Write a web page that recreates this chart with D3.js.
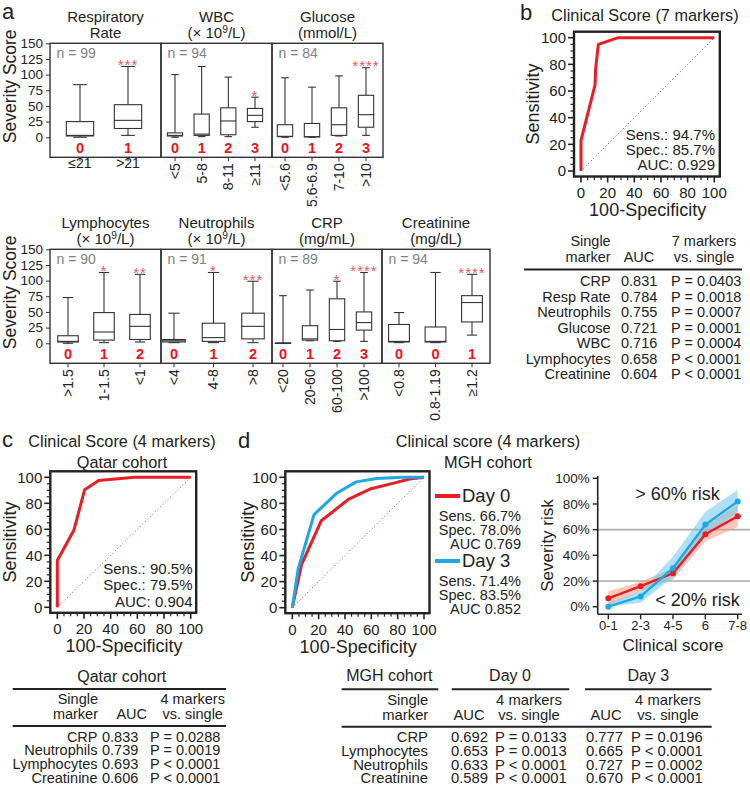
<!DOCTYPE html>
<html><head><meta charset="utf-8">
<script src="https://cdn.jsdelivr.net/npm/d3@7"></script>
<style>
body{margin:0;background:#fff}
text{font-family:"Liberation Sans",Arial,Helvetica,sans-serif;fill:#222}
</style>
</head><body>
<svg id="chart" width="750" height="790"></svg>
<script>
// ---------------- DATA ----------------
const panelTitles = [["Respiratory","Rate"],["WBC","(× 10⁹/L)"],["Glucose","(mmol/L)"],["Lymphocytes","(× 10⁹/L)"],["Neutrophils","(× 10⁹/L)"],["CRP","(mg/mL)"],["Creatinine","(mg/dL)"]];
const panelN = [99,94,84,90,91,89,94];
const panelCats = [["≤21",">21"],["<5","5-8","8-11","≥11"],["<5.6","5.6-6.9","7-10",">10"],[">1.5","1-1.5","<1"],["<4","4-8",">8"],["<20","20-60","60-100",">100"],["<0.8","0.8-1.19","≥1.2"]];
const panelPoints = [[0,1],[0,1,2,3],[0,1,2,3],[0,1,2],[0,1,2],[0,1,2,3],[0,0,1]];
const panelSig = [["","***"],["","","","*"],["","","","****"],["","*","**"],["","*","***"],["","","*","****"],["","","****"]];
// [min, q1, median, q3, max]
const respBoxes = [[0,2,3,25,84],[3,14,27,52,113]];
const wbcBoxes = [[0,2,3,7,100],[1,3,5,37,113],[1,4,26,47,96],[16,25,35,46,64]];
const glucoseBoxes = [[0,1,1.5,20,95],[0,0.5,1,22,80],[2,3,20,47,98],[3,16,36,67,111]];
const lymphBoxes = [[0,2,3,12,73],[1,5,18,49,113],[2,6,27,46,110]];
const neutroBoxes = [[1,2,4,6,48],[1,3,9,32,113],[1,7,27,48,99]];
const crpBoxes = [[0,0,0,0.5,76],[4,5,7,28,85],[3,4,22,71,99],[3,21,33,50,113]];
const creatBoxes = [[1,2,3,30,49],[1,2,3,26,113],[13,34,65,76,110]];
const panelBoxes = [respBoxes,wbcBoxes,glucoseBoxes,lymphBoxes,neutroBoxes,crpBoxes,creatBoxes];
const scoreTicks = [0,25,50,75,100,125,150];

// ROC curves [100-specificity, sensitivity]
const roc7 = [[0,0],[0,23],[10.5,64.5],[11,77],[13,95],[28,100],[100,100]];
const rocQatar = [[0,0],[0,36],[12.5,59.5],[20.5,90.5],[31,97.5],[58,100],[100,100]];
const rocDay0 = [[0,0],[7,33],[22,66.7],[42.5,83],[59,91],[77,95.5],[89,98.7],[100,100]];
const rocDay3 = [[0,0],[4.5,30],[16.5,71.4],[34,88],[48.5,96.5],[64,99],[84,100],[100,100]];
const rocTicks = [0,20,40,60,80,100];

// Severity risk by clinical score
const riskCats = ["0-1","2-3","4-5","6","7-8"];
const riskDay0 = [6.5,16,26,56.5,70.5];
const riskDay0Lo = [1,12,21,51,62];
const riskDay0Hi = [12,19.5,30,63.5,79];
const riskDay3 = [0,8,30,64,82];
const riskDay3Lo = [0,3,23,54.5,74];
const riskDay3Hi = [3,12,39,74,91];
const riskTicks = [0,20,40,60,80,100];

// Tables
const tableBNames = ["CRP","Resp Rate","Neutrophils","Glucose","WBC","Lymphocytes","Creatinine"];
const tableBAuc = ["0.831","0.784","0.755","0.721","0.716","0.658","0.604"];
const tableBP = ["P = 0.0403","P = 0.0018","P = 0.0007","P = 0.0001","P = 0.0004","P < 0.0001","P < 0.0001"];
const tableCNames = ["CRP","Neutrophils","Lymphocytes","Creatinine"];
const tableCAuc = ["0.833","0.739","0.693","0.606"];
const tableCP = ["P = 0.0288","P = 0.0019","P < 0.0001","P < 0.0001"];
const tableDNames = ["CRP","Lymphocytes","Neutrophils","Creatinine"];
const tableDAuc0 = ["0.692","0.653","0.633","0.589"];
const tableDP0 = ["P = 0.0133","P = 0.0013","P < 0.0001","P < 0.0001"];
const tableDAuc3 = ["0.777","0.665","0.727","0.670"];
const tableDP3 = ["P = 0.0196","P < 0.0001","P = 0.0002","P < 0.0001"];

// ---------------- STYLE ----------------
const RED = "#ec1c24", BLUE = "#1ca8e3", RED_NUM = "#f0101c", AST = "#f2545b";
const INK = "#333";
const svg = d3.select("#chart");
svg.append("rect").attr("width",750).attr("height",790).attr("fill","#fff");

function txt(g,x,y,s,o={}){
  const t=g.append("text").attr("x",x).attr("y",y).text(s)
    .attr("font-size",o.size||14).attr("text-anchor",o.anchor||"start");
  if(o.fill) t.style("fill",o.fill);
  if(o.weight) t.attr("font-weight",o.weight);
  if(o.rotate!==undefined) t.attr("transform",`rotate(${o.rotate},${x},${y})`);
  if(o.dy) t.attr("dy",o.dy);
  if(o.ls) t.attr("letter-spacing",o.ls);
  return t;
}
function supText(g,x,y,s,size){
  const t=g.append("text").attr("x",x).attr("y",y).attr("font-size",size).attr("text-anchor","middle");
  const parts=s.split("⁹");
  if(parts.length===1){t.text(s);return t;}
  t.append("tspan").text(parts[0]);
  t.append("tspan").text("9").attr("font-size",size*0.68).attr("dy",-size*0.38);
  t.append("tspan").text(parts[1]).attr("dy",size*0.38);
  return t;
}

// ---------------- PANEL a ----------------
const rows = [{top:43.3,bottom:157.3},{top:249.3,bottom:363.3}];
const boxLayout = [
  {x0:50,x1:161,row:0,pl:30,pr:33},
  {x0:161,x1:272,row:0,pl:14,pr:17},
  {x0:272,x1:383,row:0,pl:13,pr:17},
  {x0:50,x1:161,row:1,pl:18,pr:21},
  {x0:161,x1:272,row:1,pl:13,pr:19},
  {x0:272,x1:382,row:1,pl:11,pr:18},
  {x0:382,x1:490,row:1,pl:17,pr:18}
];
const ga = svg.append("g");
txt(ga,2,19,"a",{size:22});

rows.forEach((r,ri)=>{
  const y = d3.scaleLinear().domain([-32,150]).range([r.bottom,r.top]);
  const ax = ga.append("g").attr("transform","translate(50,0)")
    .call(d3.axisLeft(y).tickValues(scoreTicks).tickSize(4).tickPadding(3));
  ax.select(".domain").remove();
  ax.selectAll("line").attr("stroke",INK);
  ax.selectAll("text").attr("font-size",13.5).style("fill","#222");
  txt(ga,10,(r.top+r.bottom)/2-14,"Severity Score",{size:17.5,anchor:"middle",rotate:-90,dy:"0.35em"});
});

boxLayout.forEach((L,pi)=>{
  const r = rows[L.row];
  const y = d3.scaleLinear().domain([-32,150]).range([r.bottom,r.top]);
  const x = d3.scalePoint().domain(panelCats[pi]).range([L.x0+L.pl, L.x1-L.pr]);
  const step = (x.range()[1]-x.range()[0])/(panelCats[pi].length-1);
  const bw = step*0.57, cw = bw*0.5;
  const g = ga.append("g");
  g.append("rect").attr("x",L.x0).attr("y",r.top).attr("width",L.x1-L.x0).attr("height",r.bottom-r.top)
    .attr("fill","none").attr("stroke",INK).attr("stroke-width",1.4);
  const cx=(L.x0+L.x1)/2;
  supText(g,cx,r.top-21.5,panelTitles[pi][0],15);
  supText(g,cx,r.top-5,panelTitles[pi][1],15);
  txt(g,L.x0+6.5,r.top+15,"n = "+panelN[pi],{size:14,fill:"#808080"});
  panelCats[pi].forEach((c,ci)=>{
    const [mn,q1,md,q3,mx]=panelBoxes[pi][ci];
    const xc=x(c);
    const b=g.append("g").attr("stroke",INK).attr("stroke-width",1.1).attr("fill","none");
    b.append("line").attr("x1",xc).attr("x2",xc).attr("y1",y(mx)).attr("y2",y(q3));
    b.append("line").attr("x1",xc).attr("x2",xc).attr("y1",y(q1)).attr("y2",y(mn));
    b.append("line").attr("x1",xc-cw/2).attr("x2",xc+cw/2).attr("y1",y(mx)).attr("y2",y(mx));
    b.append("line").attr("x1",xc-cw/2).attr("x2",xc+cw/2).attr("y1",y(mn)).attr("y2",y(mn));
    b.append("rect").attr("x",xc-bw/2).attr("width",bw).attr("y",y(q3)).attr("height",Math.max(0.5,y(q1)-y(q3))).attr("fill","#fff");
    b.append("line").attr("x1",xc-bw/2).attr("x2",xc+bw/2).attr("y1",y(md)).attr("y2",y(md));
    if(panelSig[pi][ci]) txt(g,xc,y(mx)+3.5,panelSig[pi][ci],{size:15,anchor:"middle",fill:AST,ls:1});
    txt(g,xc,r.bottom-4.5,String(panelPoints[pi][ci]),{size:14.5,anchor:"middle",fill:RED_NUM,weight:"bold"});
    g.append("line").attr("x1",xc).attr("x2",xc).attr("y1",r.bottom).attr("y2",r.bottom+4).attr("stroke",INK);
    if(pi===0){
      txt(g,xc,r.bottom+11,c,{size:14,anchor:"middle"});
    } else {
      txt(g,xc,r.bottom+6,c,{size:14,anchor:"end",rotate:-90,dy:"0.35em"});
    }
  });
});

// ---------------- ROC helper ----------------
function drawRoc(g,cfg){
  const x=d3.scaleLinear().domain([0,100]).range(cfg.xr);
  const y=d3.scaleLinear().domain([0,100]).range(cfg.yr);
  const fx0=cfg.xr[0]-7, fx1=cfg.xr[1]+5.5, fy0=cfg.yr[1]-6, fy1=cfg.yr[0]+5.5;
  d3.range(0,101,5).forEach(v=>{
    const major=v%20===0, len=major?6:3.5;
    g.append("line").attr("x1",fx0).attr("x2",fx0-len).attr("y1",y(v)).attr("y2",y(v)).attr("stroke","#222").attr("stroke-width",major?1.6:1.2);
    g.append("line").attr("y1",fy1).attr("y2",fy1+len).attr("x1",x(v)).attr("x2",x(v)).attr("stroke","#222").attr("stroke-width",major?1.6:1.2);
  });
  rocTicks.forEach(v=>{
    txt(g,fx0-8,y(v),String(v),{size:15,anchor:"end",dy:"0.35em"});
    txt(g,x(v),fy1+21.5,String(v),{size:15,anchor:"middle"});
  });
  g.append("line").attr("x1",x(0)).attr("y1",y(0)).attr("x2",x(100)).attr("y2",y(100))
    .attr("stroke","#b0404a").attr("stroke-width",1).attr("stroke-dasharray","1,2.5");
  const line=d3.line().x(d=>x(d[0])).y(d=>y(d[1]));
  cfg.curves.forEach(c=>{
    g.append("path").datum(c.data).attr("d",line).attr("fill","none").attr("stroke",c.color)
      .attr("stroke-width",3).attr("stroke-linejoin","round");
  });
  g.append("rect").attr("x",fx0).attr("y",fy0).attr("width",fx1-fx0).attr("height",fy1-fy0)
    .attr("fill","none").attr("stroke","#222").attr("stroke-width",2.4);
  txt(g,fx0-cfg.ylabOff,(fy0+fy1)/2,"Sensitivity",{size:18,anchor:"middle",rotate:-90,dy:"0.35em"});
  txt(g,(x(0)+x(100))/2,fy1+39.5,"100-Specificity",{size:18,anchor:"middle"});
  return {x,y,fx0,fx1,fy0,fy1};
}

// ---------------- PANEL b ----------------
const gb=svg.append("g");
txt(gb,520,20,"b",{size:22});
txt(gb,645,21,"Clinical Score (7 markers)",{size:16.3,anchor:"middle"});
drawRoc(gb,{xr:[581,714.3],yr:[171,37.7],ylabOff:41,curves:[{data:roc7,color:RED}]});
txt(gb,715,140,"Sens.: 94.7%",{size:15,anchor:"end"});
txt(gb,715,155,"Spec.: 85.7%",{size:15,anchor:"end"});
txt(gb,715,170,"AUC: 0.929",{size:15,anchor:"end"});

txt(gb,610.7,245.5,"Single",{size:14.5,anchor:"end"});
txt(gb,610.7,262,"marker",{size:14.5,anchor:"end"});
txt(gb,639,262,"AUC",{size:14.5,anchor:"middle"});
txt(gb,704,245.5,"7 markers",{size:14.5,anchor:"middle"});
txt(gb,704,262,"vs. single",{size:14.5,anchor:"middle"});
gb.append("line").attr("x1",524).attr("x2",742).attr("y1",269.5).attr("y2",269.5).attr("stroke","#222").attr("stroke-width",2);
tableBNames.forEach((n,i)=>{
  const yy=286+i*15.5;
  txt(gb,610.7,yy,n,{size:14.5,anchor:"end"});
  txt(gb,621,yy,tableBAuc[i],{size:14.5});
  txt(gb,671,yy,tableBP[i],{size:14.5});
});

// ---------------- PANEL c ----------------
const gc=svg.append("g");
txt(gc,2,447,"c",{size:22});
txt(gc,122,446.5,"Clinical Score (4 markers)",{size:16.3,anchor:"middle"});
txt(gc,122,467.5,"Qatar cohort",{size:16.3,anchor:"middle"});
drawRoc(gc,{xr:[57.3,190.7],yr:[607.3,477.3],ylabOff:41,curves:[{data:rocQatar,color:RED}]});
txt(gc,192.5,573.5,"Sens.: 90.5%",{size:15,anchor:"end"});
txt(gc,192.5,590,"Spec.: 79.5%",{size:15,anchor:"end"});
txt(gc,192.5,606.5,"AUC: 0.904",{size:15,anchor:"end"});

txt(gc,121.7,682,"Qatar cohort",{size:16,anchor:"middle"});
gc.append("line").attr("x1",12.7).attr("x2",226).attr("y1",689).attr("y2",689).attr("stroke","#222").attr("stroke-width",2);
txt(gc,98,703.5,"Single",{size:14.5,anchor:"end"});
txt(gc,98,718.5,"marker",{size:14.5,anchor:"end"});
txt(gc,131.7,718.5,"AUC",{size:14.5,anchor:"middle"});
txt(gc,192.7,703.5,"4 markers",{size:14.5,anchor:"middle"});
txt(gc,192.7,718.5,"vs. single",{size:14.5,anchor:"middle"});
gc.append("line").attr("x1",12.7).attr("x2",226).attr("y1",726).attr("y2",726).attr("stroke","#222").attr("stroke-width",2);
tableCNames.forEach((n,i)=>{
  const yy=741.5+i*13.8;
  txt(gc,97.5,yy,n,{size:14.5,anchor:"end"});
  txt(gc,102,yy,tableCAuc[i],{size:14.5});
  txt(gc,150,yy,tableCP[i],{size:14.5});
});

// ---------------- PANEL d ----------------
const gd=svg.append("g");
txt(gd,238,448,"d",{size:22});
txt(gd,488,446.5,"Clinical score (4 markers)",{size:16.3,anchor:"middle"});
txt(gd,488,467.5,"MGH cohort",{size:16.3,anchor:"middle"});
drawRoc(gd,{xr:[292.3,424],yr:[607.7,477.3],ylabOff:38,curves:[{data:rocDay0,color:RED},{data:rocDay3,color:BLUE}]});
[{c:RED,label:"Day 0",y:496,lines:["Sens. 66.7%","Spec. 78.0%","AUC 0.769"]},
 {c:BLUE,label:"Day 3",y:561,lines:["Sens. 71.4%","Spec. 83.5%","AUC 0.852"]}].forEach(L=>{
  gd.append("line").attr("x1",435).attr("x2",460).attr("y1",L.y).attr("y2",L.y).attr("stroke",L.c).attr("stroke-width",4);
  txt(gd,462,L.y,L.label,{size:18.5,dy:"0.35em"});
  L.lines.forEach((s,i)=>txt(gd,521,L.y+20+i*13.8,s,{size:14.5,anchor:"end",dy:"0.35em"}));
});

// risk chart
const rx=d3.scalePoint().domain(riskCats).range([608.3,737.7]);
const ry=d3.scaleLinear().domain([0,100]).range([606.7,478.3]);
const axL=597.7, axB=614.3;
gd.append("g").selectAll("line.ref").data([20,60]).join("line")
  .attr("x1",axL).attr("x2",750).attr("y1",d=>ry(d)).attr("y2",d=>ry(d)).attr("stroke","#aaa").attr("stroke-width",1.6);
const area=(lo,hi)=>d3.area().x((d,i)=>rx(riskCats[i])).y0((d,i)=>ry(lo[i])).y1((d,i)=>ry(hi[i]));
gd.append("path").datum(riskCats).attr("d",area(riskDay0Lo,riskDay0Hi)).attr("fill","#f29a7e").attr("opacity",0.55);
gd.append("path").datum(riskCats).attr("d",area(riskDay3Lo,riskDay3Hi)).attr("fill","#6cc8f0").attr("opacity",0.55);
const rline=d3.line().x((d,i)=>rx(riskCats[i])).y(d=>ry(d));
[[riskDay0,RED],[riskDay3,BLUE]].forEach(([vals,c])=>{
  gd.append("path").datum(vals).attr("d",rline).attr("fill","none").attr("stroke",c).attr("stroke-width",2.4);
  gd.append("g").selectAll("circle").data(vals).join("circle")
    .attr("cx",(d,i)=>rx(riskCats[i])).attr("cy",d=>ry(d)).attr("r",3).attr("fill",c);
});
gd.append("line").attr("x1",axL).attr("x2",axL).attr("y1",476).attr("y2",axB).attr("stroke","#222").attr("stroke-width",1.6);
gd.append("line").attr("x1",axL).attr("x2",742).attr("y1",axB).attr("y2",axB).attr("stroke","#222").attr("stroke-width",1.6);
riskTicks.forEach(v=>{
  gd.append("line").attr("x1",axL-5).attr("x2",axL).attr("y1",ry(v)).attr("y2",ry(v)).attr("stroke","#222").attr("stroke-width",1.4);
  txt(gd,axL-8,ry(v),v+"%",{size:13.5,anchor:"end",dy:"0.35em"});
});
riskCats.forEach(c=>{
  gd.append("line").attr("x1",rx(c)).attr("x2",rx(c)).attr("y1",axB).attr("y2",axB+5).attr("stroke","#222").attr("stroke-width",1.4);
  txt(gd,rx(c),axB+16,c,{size:13,anchor:"middle"});
});
txt(gd,546.7,ry(50)+3,"Severity risk",{size:17,anchor:"middle",rotate:-90,dy:"0.35em"});
txt(gd,673,651,"Clinical score",{size:17,anchor:"middle"});
txt(gd,677.5,499.5,"> 60% risk",{size:18,anchor:"middle"});
txt(gd,697.5,605.5,"< 20% risk",{size:18,anchor:"middle"});

// table d
txt(gd,389.3,680.5,"MGH cohort",{size:16,anchor:"middle"});
txt(gd,510,680.5,"Day 0",{size:16,anchor:"middle"});
txt(gd,648.3,680.5,"Day 3",{size:16,anchor:"middle"});
[[341.7,438.3],[451.7,569.3],[585,711.7]].forEach(([a,b])=>gd.append("line").attr("x1",a).attr("x2",b).attr("y1",689.3).attr("y2",689.3).attr("stroke","#222").attr("stroke-width",2));
txt(gd,428.3,705,"Single",{size:14.8,anchor:"end"});
txt(gd,428.3,720,"marker",{size:14.8,anchor:"end"});
txt(gd,469,720,"AUC",{size:14.8,anchor:"middle"});
txt(gd,529,705,"4 markers",{size:14.8,anchor:"middle"});
txt(gd,529,720,"vs. single",{size:14.8,anchor:"middle"});
txt(gd,606,720,"AUC",{size:14.8,anchor:"middle"});
txt(gd,668,705,"4 markers",{size:14.8,anchor:"middle"});
txt(gd,668,720,"vs. single",{size:14.8,anchor:"middle"});
gd.append("line").attr("x1",341.7).attr("x2",711.7).attr("y1",726.7).attr("y2",726.7).attr("stroke","#222").attr("stroke-width",2);
tableDNames.forEach((n,i)=>{
  const yy=742+i*13.8;
  txt(gd,428,yy,n,{size:14.8,anchor:"end"});
  txt(gd,451,yy,tableDAuc0[i],{size:14.8});
  txt(gd,495,yy,tableDP0[i],{size:14.8});
  txt(gd,586,yy,tableDAuc3[i],{size:14.8});
  txt(gd,631,yy,tableDP3[i],{size:14.8});
});
</script>
</body></html>
